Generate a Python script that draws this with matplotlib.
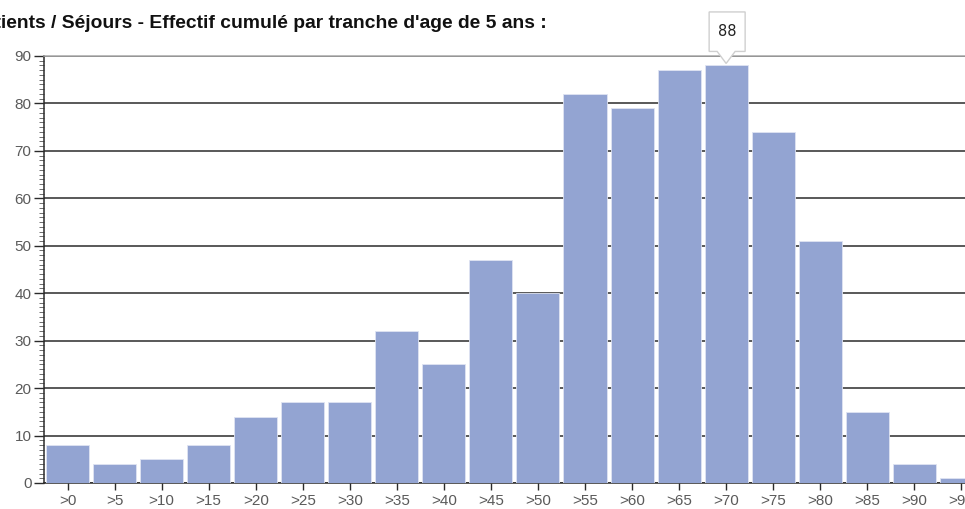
import matplotlib
matplotlib.use('Agg')
import matplotlib.pyplot as plt
import matplotlib.transforms as mtransforms
from matplotlib.patches import Polygon
from matplotlib.ticker import MultipleLocator

# age bands (5 years) and cumulated counts
labels = ['>0', '>5', '>10', '>15', '>20', '>25', '>30', '>35', '>40', '>45',
          '>50', '>55', '>60', '>65', '>70', '>75', '>80', '>85', '>90', '>95']
counts = [8, 4, 5, 8, 14, 17, 17, 32, 25, 47,
          40, 82, 79, 87, 88, 74, 51, 15, 4, 1]
title = "Patients / Séjours - Effectif cumulé par tranche d'age de 5 ans :"

bar_color = '#93a4d2'
grid_color = '#2b2b2b'
text_color = '#5a5a5a'

plt.rcParams['font.family'] = ['Liberation Sans', 'DejaVu Sans']

fig = plt.figure(figsize=(9.65, 5.09), dpi=100)
# axes runs past the right border, the last bar is cut off like in the page
ax = fig.add_axes([0.0456, 0.0511, 0.975, 0.839])

x = list(range(len(labels)))
ax.bar(x, counts, width=0.915, color=bar_color, edgecolor='#dfe4f2',
       linewidth=0.6, zorder=3)

ax.set_xlim(-0.5, len(labels) - 0.5)
ax.set_ylim(0, 90)
ax.yaxis.set_major_locator(MultipleLocator(10))
ax.yaxis.set_minor_locator(MultipleLocator(1))
ax.set_xticks(x)
ax.set_xticklabels(labels)

ax.grid(axis='y', color=grid_color, linewidth=1.1, zorder=0)
ax.grid(axis='x', visible=False)
ax.set_axisbelow(True)

ax.spines['right'].set_visible(False)
ax.spines['top'].set_color('#a8a8a8')
ax.spines['top'].set_linewidth(1.1)
for side in ['left', 'bottom']:
    ax.spines[side].set_color(grid_color)
    ax.spines[side].set_linewidth(1.1)

ax.tick_params(axis='y', which='major', length=7, width=1, color=grid_color,
               labelsize=11, labelcolor=text_color, pad=2)
ax.tick_params(axis='y', which='minor', length=3.5, width=0.6, color='#555555')
ax.tick_params(axis='x', which='major', length=5, width=1, color=grid_color,
               labelsize=11, labelcolor=text_color, pad=3)

# title, cut at the left border as in the reference
fig.text(547 / 965, 1 - 23 / 509, title, ha='right', va='center',
         fontsize=13.85, fontweight='bold', color='#111111')

# tooltip on the highest bar
peak = max(range(len(counts)), key=lambda i: counts[i])
trans = fig.dpi_scale_trans + mtransforms.ScaledTranslation(
    peak, counts[peak], ax.transData)
tip = [(0.0, 0.02), (-0.09, 0.14), (-0.17, 0.14), (-0.17, 0.535),
       (0.19, 0.535), (0.19, 0.14), (0.09, 0.14)]
ax.add_patch(Polygon(tip, closed=True, transform=trans, facecolor='white',
                     edgecolor='#cfcfcf', linewidth=1, zorder=5,
                     clip_on=False))
ax.text(0.01, 0.335, str(counts[peak]), transform=trans, ha='center',
        va='center', fontsize=10.5, color='#222222', zorder=6,
        family='DejaVu Sans')

fig.savefig('out.png', dpi=100)
